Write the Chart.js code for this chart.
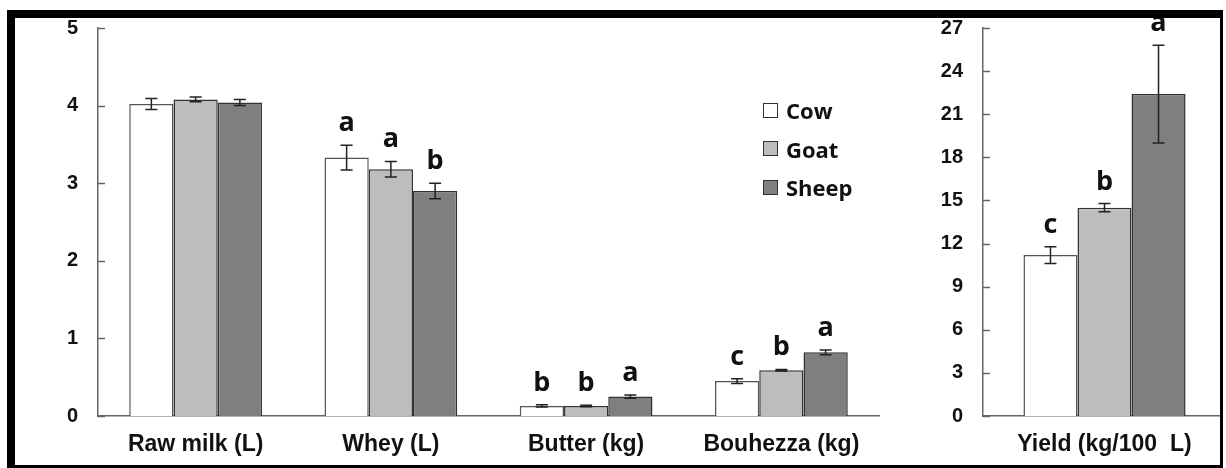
<!DOCTYPE html>
<html>
<head>
<meta charset="utf-8">
<script src="https://cdn.jsdelivr.net/npm/chart.js@4.4.1/dist/chart.umd.min.js"></script>
<style>
  html, body { margin: 0; padding: 0; background: #fff; }
  body { width: 1226px; height: 468px; position: relative; overflow: hidden; }
  .frame {
    position: absolute; left: 7px; top: 10px; width: 1216px; height: 463px;
    box-sizing: border-box; border: 8px solid #000; border-right-width: 3px;
    z-index: 10; pointer-events: none;
  }
  #leftWrap { position: absolute; left: 15px; top: 18px; width: 880px; height: 447px; }
  #rightWrap { position: absolute; left: 900px; top: 18px; width: 321px; height: 447px; overflow: hidden; }
  #legend {
    position: absolute; left: 763px; top: 91px;
    font: bold 22px "Open Sans", sans-serif; color: #111;
  }
  #legend div { display: flex; align-items: center; height: 38.5px; }
  #legend span.box {
    display: inline-block; width: 13px; height: 13px; border: 1.5px solid #333; margin-right: 8px;
  }
</style>
</head>
<body>
<div id="leftWrap"><canvas id="mainChart" width="880" height="447"></canvas></div>
<div id="rightWrap"><canvas id="yieldChart" width="326" height="447"></canvas></div>
<div id="legend"></div>
<div class="frame"></div>
<script>
// Data

const seriesNames = ['Cow', 'Goat', 'Sheep'];
const seriesColors = ['#ffffff', '#bdbdbd', '#7f7f7f'];
const seriesBorders = ['#555555', '#333333', '#333333'];

const categories = ['Raw milk (L)', 'Whey (L)', 'Butter (kg)', 'Bouhezza (kg)'];
const cowValues = [4.02, 3.33, 0.13, 0.45];
const goatValues = [4.08, 3.18, 0.13, 0.59];
const sheepValues = [4.04, 2.90, 0.25, 0.82];
const cowErrors = [0.07, 0.16, 0.015, 0.03];
const goatErrors = [0.03, 0.10, 0.01, 0.01];
const sheepErrors = [0.04, 0.10, 0.02, 0.03];
const cowLetters = ['', 'a', 'b', 'c'];
const goatLetters = ['', 'a', 'b', 'b'];
const sheepLetters = ['', 'b', 'a', 'a'];
const mainTicks = [0, 1, 2, 3, 4, 5];

const yieldCategories = ['Yield (kg/100  L)'];
const yieldValues = [[11.2], [14.5], [22.4]];
const yieldErrors = [[0.58], [0.28], [3.4]];
const yieldLetters = [['c'], ['b'], ['a']];
const yieldTicks = [0, 3, 6, 9, 12, 15, 18, 21, 24, 27];

// Plugins

const errorBars = {
    id: 'errorBars',
    afterDatasetsDraw(chart) {
        const { ctx } = chart;
        const y = chart.scales.y;
        chart.data.datasets.forEach((ds, i) => {
            chart.getDatasetMeta(i).data.forEach((bar, j) => {
                const v = ds.data[j], e = ds.errors[j];
                const top = y.getPixelForValue(v + e);
                const bot = y.getPixelForValue(v - e);
                ctx.save();
                ctx.strokeStyle = '#222';
                ctx.lineWidth = 1.5;
                ctx.beginPath();
                ctx.moveTo(bar.x, top); ctx.lineTo(bar.x, bot);
                ctx.moveTo(bar.x - 6, top); ctx.lineTo(bar.x + 6, top);
                ctx.moveTo(bar.x - 6, bot); ctx.lineTo(bar.x + 6, bot);
                ctx.stroke();
                const letter = ds.letters[j];
                if (letter) {
                    ctx.fillStyle = '#111';
                    ctx.font = 'bold 27px "Open Sans", sans-serif';
                    ctx.textAlign = 'center';
                    ctx.textBaseline = 'alphabetic';
                    ctx.fillText(letter, bar.x, top - 14);
                }
                ctx.restore();
            });
        });
    }
};

const innerTicks = {
    id: 'innerTicks',
    afterDraw(chart) {
        const { ctx } = chart;
        const y = chart.scales.y;
        ctx.save();
        ctx.strokeStyle = '#666';
        ctx.lineWidth = 1.5;
        ctx.beginPath();
        y.ticks.forEach(t => {
            const py = Math.round(y.getPixelForValue(t.value)) + 0.5;
            ctx.moveTo(y.right, py);
            ctx.lineTo(y.right + 7, py);
        });
        ctx.stroke();
        ctx.restore();
    }
};

// Shared options

Chart.defaults.font.family = '"Liberation Sans", Arial, sans-serif';
Chart.defaults.font.weight = 'bold';
Chart.defaults.color = '#111';

function makeOptions(max, step, ticksList, rightPad) {
    return {
        responsive: false,
        animation: false,
        layout: { padding: { top: 10, right: rightPad, left: 0, bottom: 0 } },
        scales: {
            x: {
                grid: { display: false, drawTicks: false },
                border: { display: true, color: '#666', width: 1.5 },
                ticks: { font: { size: 23 }, padding: 15, maxRotation: 0 },
                afterFit: s => { s.height = 49; s.paddingLeft = 0; s.paddingRight = 0; }
            },
            y: {
                min: 0,
                max: max,
                afterBuildTicks: s => { s.ticks = ticksList.map(v => ({ value: v })); },
                grid: { display: false, drawTicks: false },
                border: { display: true, color: '#666', width: 1.5 },
                ticks: { stepSize: step, font: { size: 20 }, padding: 20 },
                afterFit: s => { s.width = 83; s.paddingTop = 0; s.paddingBottom = 0; }
            }
        },
        plugins: { legend: { display: false }, tooltip: { enabled: false } }
    };
}

function makeDataset(i, data, errors, letters, pct) {
    return {
        label: seriesNames[i],
        data: data,
        errors: errors,
        letters: letters,
        backgroundColor: seriesColors[i],
        borderColor: seriesBorders[i],
        borderWidth: 1.5,
        barPercentage: 1.0,
        categoryPercentage: pct
    };
}

// Main grouped bar chart

new Chart(document.getElementById('mainChart'), {
    type: 'bar',
    data: {
        labels: categories,
        datasets: [
            makeDataset(0, cowValues, cowErrors, cowLetters, 0.68),
            makeDataset(1, goatValues, goatErrors, goatLetters, 0.68),
            makeDataset(2, sheepValues, sheepErrors, sheepLetters, 0.68)
        ]
    },
    options: makeOptions(5, 1, mainTicks, 16),
    plugins: [errorBars, innerTicks]
});

// Yield chart

new Chart(document.getElementById('yieldChart'), {
    type: 'bar',
    data: {
        labels: yieldCategories,
        datasets: seriesNames.map((n, i) => makeDataset(i, yieldValues[i], yieldErrors[i], yieldLetters[i], 0.667))
    },
    options: makeOptions(27, 3, yieldTicks, 0),
    plugins: [errorBars, innerTicks]
});

// Legend

const legend = document.getElementById('legend');
seriesNames.forEach((name, i) => {
    const row = document.createElement('div');
    const box = document.createElement('span');
    box.className = 'box';
    box.style.background = seriesColors[i];
    row.appendChild(box);
    row.appendChild(document.createTextNode(name));
    legend.appendChild(row);
});
</script>
</body>
</html>
